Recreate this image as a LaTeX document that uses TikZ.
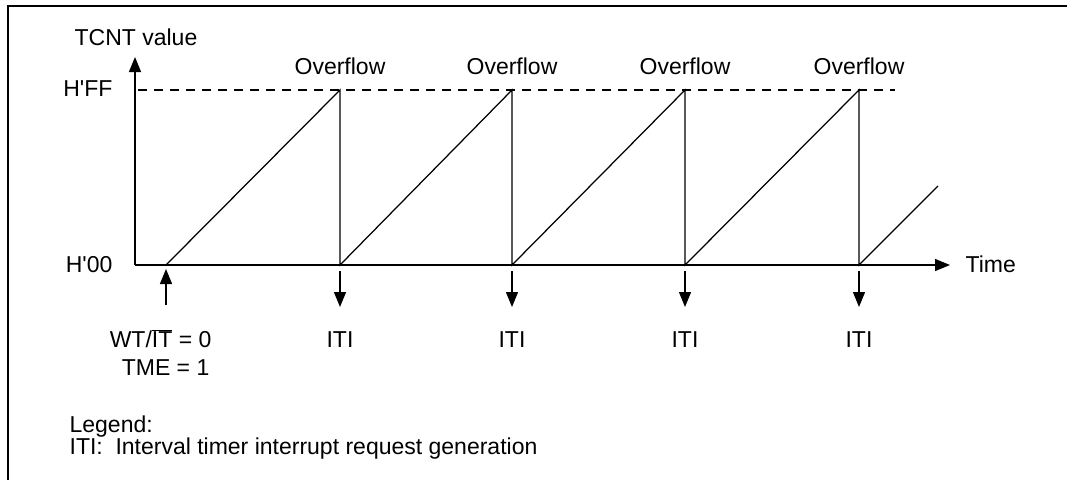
\documentclass[tikz,border=0pt]{standalone}
\usepackage{fontspec}
\setmainfont{Liberation Sans}
\usetikzlibrary{arrows.meta}
\begin{document}
\begin{tikzpicture}[x=1pt,y=-1pt,
  font=\fontsize{23}{27}\selectfont, line width=1.25pt,
  tri/.style={-{Triangle[width=12pt,length=15pt]}},
  lbl/.style={inner sep=0pt},
  frame/.style={line width=2.6pt},
  limit/.style={dashed, dash pattern=on 9pt off 7pt, line width=1.2pt}]
\useasboundingbox (0,0) rectangle (1067,480);
\draw[frame] (8,480) -- (8,6) -- (1067,6);
% axes
\coordinate (o) at (135,265);
\coordinate (ytop) at (135,57);
\coordinate (xend) at (950,265);
\draw[tri] (o) -- (ytop);
\draw[tri] (o) -- (xend);
\node[lbl, anchor=base] (tcnt) at (136,45) {TCNT value};
\node[lbl, anchor=base east] (hff) at (113,96) {H\textquotesingle FF};
\node[lbl, anchor=base east] (h00) at (113,272) {H\textquotesingle 00};
\node[lbl, anchor=base west] (time) at (965,272) {Time};
% dashed limit
\coordinate (d0) at (138,90);
\coordinate (d1) at (895,90);
\draw[limit] (d0) -- (d1);
% ramps
\coordinate (s0) at (166,265);
\foreach \i/\x in {1/340,2/512,3/685,4/859}{
  \coordinate (p\i) at (\x,90);
  \coordinate (b\i) at (\x,265);
  \node[lbl, anchor=base] (ov\i) at (\x,74) {Overflow};
  \coordinate (a\i) at (\x,271);
  \coordinate (t\i) at (\x,307);
  \draw[tri] (a\i) -- (t\i);
  \node[lbl, anchor=base] (iti\i) at (\x,347) {ITI};
}
\coordinate (e) at (938,186);
\draw (s0) -- (p1) -- (b1) -- (p2) -- (b2) -- (p3) -- (b3) -- (p4) -- (b4) -- (e);
% start arrow
\coordinate (u0) at (166,305);
\coordinate (u1) at (166,269);
\draw[tri] (u0) -- (u1);
\node[lbl, anchor=base east] (wt) at (212,347) {WT/$\overline{\mbox{IT}}$ = 0};
\node[lbl, anchor=base east] (tme) at (210,375) {TME = 1};
% legend
\node[lbl, anchor=base west] (leg) at (69,432) {Legend:};
\node[lbl, anchor=base west] (legiti) at (69,454) {ITI:\hspace{0.55em}Interval timer interrupt request generation};
\end{tikzpicture}
\end{document}
